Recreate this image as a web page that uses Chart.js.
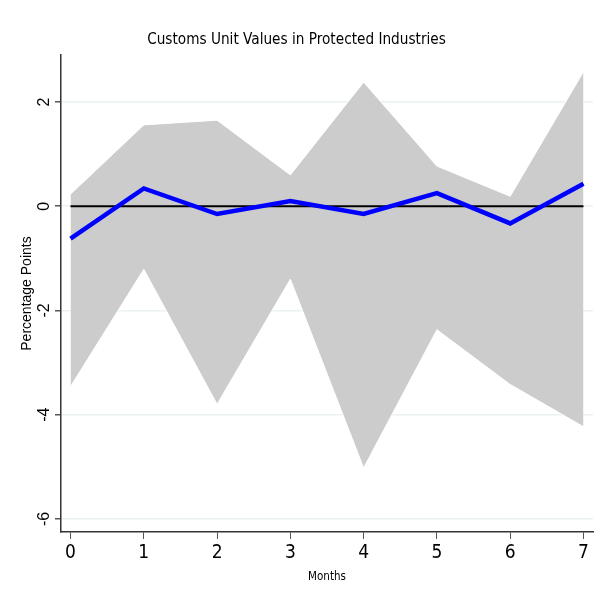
<!DOCTYPE html>
<html>
<head>
<meta charset="utf-8">
<script src="https://cdn.jsdelivr.net/npm/chart.js@4.4.1/dist/chart.umd.min.js"></script>
<style>
  html, body { margin: 0; padding: 0; background: #fff; }
  #wrap { width: 603px; height: 608px; }
</style>
</head>
<body>
<div id="wrap"><canvas id="chart" width="603" height="608"></canvas></div>
<script>
// Data
const months = [0, 1, 2, 3, 4, 5, 6, 7];
const meanEffect = [-0.62, 0.34, -0.15, 0.10, -0.15, 0.25, -0.33, 0.43];
const upperBand = [0.23, 1.56, 1.65, 0.60, 2.38, 0.77, 0.19, 2.58];
const lowerBand = [-3.46, -1.21, -3.80, -1.40, -5.02, -2.37, -3.42, -4.23];
const zeroLine = [0, 0];
const xTicks = [0, 1, 2, 3, 4, 5, 6, 7];
const yTicks = [-6, -4, -2, 0, 2];

const narrow = "'Liberation Sans Narrow', 'DejaVu Sans Condensed', sans-serif";
const regular = "'Liberation Sans', Arial, sans-serif";

const toPoints = (xs, ys) => xs.map((x, i) => ({ x, y: ys[i] }));

const ctx = document.getElementById('chart').getContext('2d');
const myChart = new Chart(ctx, {
    type: 'line',
    data: {
        datasets: [
            {
                label: 'Upper',
                data: toPoints(months, upperBand),
                borderColor: '#ffffff',
                borderWidth: 1,
                backgroundColor: '#cccccc',
                fill: '+1',
                pointRadius: 0,
                tension: 0,
                order: 4
            },
            {
                label: 'Lower',
                data: toPoints(months, lowerBand),
                borderColor: '#ffffff',
                borderWidth: 1,
                fill: false,
                pointRadius: 0,
                tension: 0,
                order: 3
            },
            {
                label: 'Zero',
                data: toPoints([months[0], months[months.length - 1]], zeroLine),
                borderColor: '#000000',
                borderWidth: 2,
                fill: false,
                pointRadius: 0,
                order: 2
            },
            {
                label: 'Estimate',
                data: toPoints(months, meanEffect),
                borderColor: '#0000ff',
                borderWidth: 4.5,
                fill: false,
                pointRadius: 0,
                tension: 0,
                order: 1
            }
        ]
    },
    options: {
        responsive: false,
        animation: false,
        layout: { padding: { left: 0, right: 10, top: 0, bottom: 0 } },
        plugins: {
            legend: { display: false },
            tooltip: { enabled: false },
            filler: { drawTime: 'beforeDatasetsDraw' },
            title: {
                display: true,
                text: 'Customs Unit Values in Protected Industries',
                color: '#000',
                font: { family: narrow, size: 15.2, weight: 'normal', lineHeight: 1.2 },
                padding: { top: 31, bottom: 5.8 }
            }
        },
        scales: {
            x: {
                type: 'linear',
                min: -0.13,
                max: 7.13,
                afterBuildTicks: scale => { scale.ticks = xTicks.map(v => ({ value: v })); },
                afterFit: scale => { scale.height = 76; },
                grid: {
                    drawOnChartArea: false,
                    drawTicks: true,
                    tickLength: 7,
                    tickColor: '#555'
                },
                border: { display: true, color: '#333', width: 1.5 },
                ticks: {
                    color: '#000',
                    font: { family: narrow, size: 19 },
                    padding: 3,
                    maxRotation: 0,
                    autoSkip: false
                },
                title: {
                    display: true,
                    text: 'Months',
                    color: '#000',
                    font: { family: narrow, size: 11.5 },
                    padding: { top: 0, bottom: 24 }
                }
            },
            y: {
                type: 'linear',
                min: -6.25,
                max: 2.9,
                afterBuildTicks: scale => { scale.ticks = yTicks.map(v => ({ value: v })); },
                afterFit: scale => { scale.width = 61; },
                grid: {
                    color: '#eaf2f3',
                    lineWidth: 1.5,
                    drawTicks: true,
                    tickLength: 6,
                    tickColor: '#555'
                },
                border: { display: true, color: '#333', width: 1.5 },
                ticks: {
                    color: '#000',
                    font: { family: regular, size: 16 },
                    minRotation: 90,
                    maxRotation: 90,
                    crossAlign: 'center',
                    padding: 3
                },
                title: {
                    display: true,
                    text: 'Percentage Points',
                    color: '#000',
                    font: { family: regular, size: 14 },
                    padding: { top: 19, bottom: 0 }
                }
            }
        }
    }
});
</script>
</body>
</html>
